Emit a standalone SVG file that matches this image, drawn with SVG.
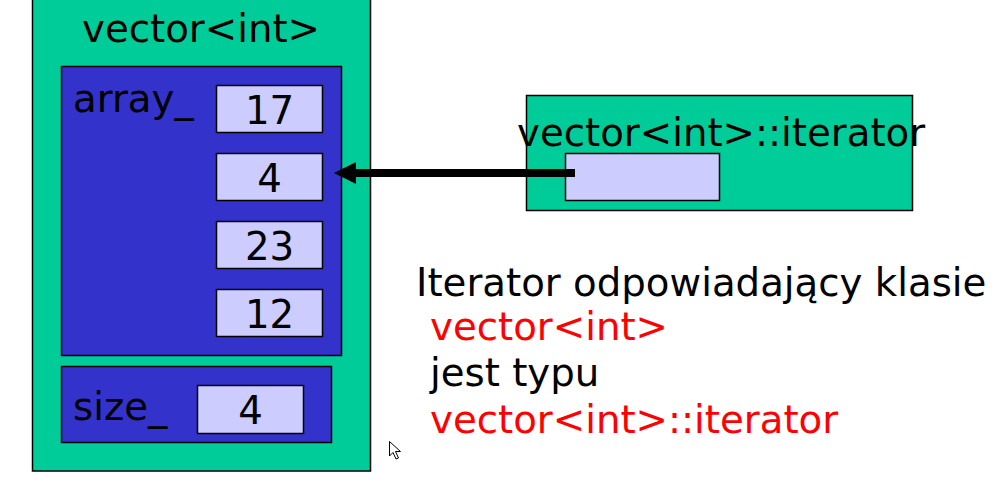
<svg xmlns="http://www.w3.org/2000/svg" width="998" height="486" viewBox="0 0 998 486">
<style>
text{font-family:"DejaVu Sans",sans-serif;font-size:38.7px;fill:#000}
.g{fill:#00cc99;stroke:#000;stroke-width:1.5}
.b{fill:#3333cc;stroke:#000;stroke-width:1.5}
.c{fill:#ccccff;stroke:#000;stroke-width:1.5}
.n{text-anchor:middle}
.r{fill:#ff0000}
</style>
<defs>
<marker id="ah" markerUnits="userSpaceOnUse" markerWidth="24" markerHeight="24" refX="11" refY="12" orient="auto">
<path d="M0,1 L22,12 L0,23 Z" fill="#000"/>
</marker>
</defs>
<rect width="998" height="486" fill="#fff"/>
<g id="vector">
<rect class="g" x="32.5" y="-5" width="338" height="476"/>
<text class="n" x="201" y="42">vector&lt;int&gt;</text>
</g>
<g id="array">
<rect class="b" x="61.5" y="66.5" width="280" height="289"/>
<text x="73" y="112">array_</text>
</g>
<g id="cell17"><rect class="c" x="216.5" y="85.5" width="106" height="47"/><text class="n" x="269.5" y="124">17</text></g>
<g id="cell4"><rect class="c" x="216.5" y="153.5" width="106" height="47"/><text class="n" x="269.5" y="192">4</text></g>
<g id="cell23"><rect class="c" x="216.5" y="221.5" width="106" height="47"/><text class="n" x="269.5" y="260">23</text></g>
<g id="cell12"><rect class="c" x="216.5" y="289.5" width="106" height="47"/><text class="n" x="269.5" y="328">12</text></g>
<g id="size">
<rect class="b" x="61.5" y="366.5" width="270" height="76"/>
<text x="73" y="420">size_</text>
<rect class="c" x="197.5" y="385.5" width="106" height="48"/>
<text class="n" x="250.5" y="424">4</text>
</g>
<g id="iterator">
<rect class="g" x="526.5" y="95.5" width="386" height="115"/>
<text x="517" y="146">vector&lt;int&gt;::iterator</text>
<rect class="c" x="565.5" y="153.5" width="154" height="47"/>
</g>
<g id="connectors">
<line x1="575" y1="173" x2="345" y2="173" stroke="#000" stroke-width="8" marker-end="url(#ah)"/>
</g>
<g id="caption">
<text x="416" y="296">Iterator odpowiadający klasie</text>
<text class="r" x="430" y="340">vector&lt;int&gt;</text>
<text x="430" y="386">jest typu</text>
<text class="r" x="430" y="433">vector&lt;int&gt;::iterator</text>
</g>
<path d="M389.5,441.5 L389.5,456 L393,452.5 L396,459 L398.5,458 L395.5,451.5 L400.5,451.5 Z" fill="#fff" stroke="#000" stroke-width="1"/>
</svg>
